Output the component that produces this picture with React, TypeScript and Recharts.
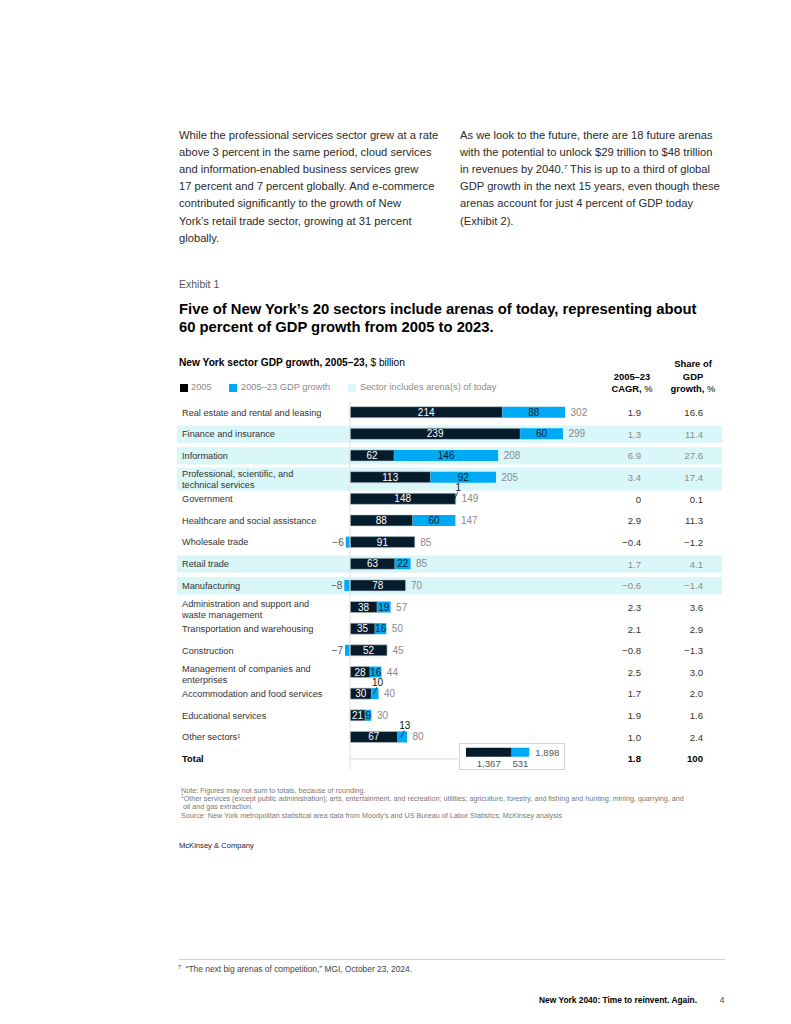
import React from "react";
import {
  BarChart,
  Bar,
  XAxis,
  YAxis,
  ReferenceArea,
  ReferenceLine,
  LabelList,
} from "recharts";

// New York sector GDP, $ billion
const sectors = [
  "Real estate and rental and leasing",
  "Finance and insurance",
  "Information",
  "Professional, scientific, and\ntechnical services",
  "Government",
  "Healthcare and social assistance",
  "Wholesale trade",
  "Retail trade",
  "Manufacturing",
  "Administration and support and\nwaste management",
  "Transportation and warehousing",
  "Construction",
  "Management of companies and\nenterprises",
  "Accommodation and food services",
  "Educational services",
  "Other sectors¹",
];
const gdp2005 = [214, 239, 62, 113, 148, 88, 91, 63, 78, 38, 35, 52, 28, 30, 21, 67];
const growth = [88, 60, 146, 92, 1, 60, -6, 22, -8, 19, 16, -7, 16, 10, 9, 13];
const gdp2023 = [302, 299, 208, 205, 149, 147, 85, 85, 70, 57, 50, 45, 44, 40, 30, 80];
const cagr = [1.9, 1.3, 6.9, 3.4, 0, 2.9, -0.4, 1.7, -0.6, 2.3, 2.1, -0.8, 2.5, 1.7, 1.9, 1.0];
const shareOfGrowth = [16.6, 11.4, 27.6, 17.4, 0.1, 11.3, -1.2, 4.1, -1.4, 3.6, 2.9, -1.3, 3.0, 2.0, 1.6, 2.4];
const hasArena = [false, true, true, true, false, false, false, true, true, false, false, false, false, false, false, false];
const calloutSectors = ["Government", "Accommodation and food services", "Other sectors¹"];

const totalName = "Total";
const total2005 = 1367;
const totalGrowth = 531;
const total2023 = 1898;
const totalCagr = 1.8;
const totalShare = 100;

const DARK = "#051C2C";
const BLUE = "#00A9F4";
const BAND = "#D9F6F8";
const GREY = "#8a8a8a";
const FONT = '"Liberation Sans", Arial, sans-serif';

const rows = [
  ...sectors.map((s, i) => ({ sector: s, base: gdp2005[i], growth: growth[i] })),
  { sector: totalName, base: null, growth: null },
];
const totalRows = [{ name: totalName, base: total2005, growth: totalGrowth }];

const fmt = (v: number) => (v === 0 ? "0" : (v < 0 ? "\u2212" : "") + Math.abs(v).toFixed(1));
const fmtInt = (v: number) => (v < 0 ? "\u2212" : "") + Math.abs(v).toLocaleString("en-US");

type TProps = {
  x: number;
  y: number;
  size: number;
  weight?: number;
  color?: string;
  align?: "left" | "right" | "center";
  ls?: number;
  children: React.ReactNode;
};

function T({ x, y, size, weight = 400, color = "#222", align = "left", ls = 0, children }: TProps) {
  const style: React.CSSProperties = {
    position: "absolute",
    top: y - size * 0.6,
    height: size * 1.2,
    lineHeight: `${size * 1.2}px`,
    fontSize: size,
    fontWeight: weight,
    color,
    whiteSpace: "nowrap",
    letterSpacing: ls,
  };
  if (align === "left") style.left = x;
  else if (align === "right") style.right = 791 - x;
  else {
    style.left = x;
    style.transform = "translateX(-50%)";
  }
  return <div style={style}>{children}</div>;
}

const Sup = ({ children, size }: { children: React.ReactNode; size: number }) => (
  <span style={{ fontSize: size, position: "relative", top: -size * 0.6, lineHeight: 0 }}>{children}</span>
);

const leftPara = [
  "While the professional services sector grew at a rate",
  "above 3 percent in the same period, cloud services",
  "and information-enabled business services grew",
  "17 percent and 7 percent globally. And e-commerce",
  "contributed significantly to the growth of New",
  "York\u2019s retail trade sector, growing at 31 percent",
  "globally.",
];
const rightPara: React.ReactNode[] = [
  "As we look to the future, there are 18 future arenas",
  "with the potential to unlock $29 trillion to $48 trillion",
  <>
    in revenues by 2040.<Sup size={6}>7</Sup> This is up to a third of global
  </>,
  "GDP growth in the next 15 years, even though these",
  "arenas account for just 4 percent of GDP today",
  "(Exhibit 2).",
];

const CAGR_X = 641;
const SHARE_X = 703;

const RowTick = (props: any) => {
  const { y, payload } = props;
  const name: string = payload.value;
  if (name === totalName) {
    return (
      <g fontFamily={FONT}>
        <text x={182} y={y} dominantBaseline="central" fontSize={9.4} fontWeight={700} fill="#000">
          {name}
        </text>
        <text x={CAGR_X} y={y} dominantBaseline="central" textAnchor="end" fontSize={9.6} fontWeight={700} fill="#000">
          {fmt(totalCagr)}
        </text>
        <text x={SHARE_X} y={y} dominantBaseline="central" textAnchor="end" fontSize={9.6} fontWeight={700} fill="#000">
          {totalShare}
        </text>
      </g>
    );
  }
  const i = sectors.indexOf(name);
  const lines = name.split("\n");
  const numColor = hasArena[i] ? "#8c8c8c" : "#333";
  return (
    <g fontFamily={FONT}>
      {lines.map((l, k) => (
        <text
          key={k}
          x={182}
          y={lines.length === 1 ? y : y - 3.6 + k * 10.8}
          dominantBaseline="central"
          fontSize={9.2}
          fill="#333"
        >
          {l}
        </text>
      ))}
      <text x={CAGR_X} y={y} dominantBaseline="central" textAnchor="end" fontSize={9.6} fill={numColor}>
        {fmt(cagr[i])}
      </text>
      <text x={SHARE_X} y={y} dominantBaseline="central" textAnchor="end" fontSize={9.6} fill={numColor}>
        {fmt(shareOfGrowth[i])}
      </text>
    </g>
  );
};

const box = (p: any) => {
  const vb = p.viewBox ?? p;
  const w = vb.width ?? 0;
  return { x: Math.min(vb.x, vb.x + w), y: vb.y, w: Math.abs(w), h: vb.height };
};

const BaseLabel = (p: any) => {
  const i = p.index;
  if (i == null || i >= sectors.length) return null;
  const b = box(p);
  const k = b.w / gdp2005[i];
  const end = b.x + b.w + Math.max(growth[i], 0) * k;
  const cy = b.y + b.h / 2;
  return (
    <g fontFamily={FONT} fontSize={10}>
      <text x={b.x + b.w / 2} y={cy} dominantBaseline="central" textAnchor="middle" fill="#fff">
        {gdp2005[i]}
      </text>
      <text x={end + 5.5} y={cy} dominantBaseline="central" fill={GREY}>
        {gdp2023[i]}
      </text>
    </g>
  );
};

const GrowthLabel = (p: any) => {
  const i = p.index;
  if (i == null || i >= sectors.length) return null;
  const b = box(p);
  const g = growth[i];
  const cy = b.y + b.h / 2;
  if (g < 0) {
    return (
      <text x={b.x - 2} y={cy} dominantBaseline="central" textAnchor="end" fontFamily={FONT} fontSize={10} fill="#555">
        {fmtInt(g)}
      </text>
    );
  }
  const cx = b.x + b.w / 2;
  if (calloutSectors.includes(sectors[i])) {
    return (
      <g>
        <line x1={cx - 1.5} y1={b.y + 6} x2={cx + 2} y2={b.y - 1} stroke={DARK} strokeWidth={0.8} />
        <text x={cx + 2.5} y={b.y - 5.5} dominantBaseline="central" textAnchor="middle" fontFamily={FONT} fontSize={10} fill="#111">
          {g}
        </text>
      </g>
    );
  }
  return (
    <text x={cx} y={cy} dominantBaseline="central" textAnchor="middle" fontFamily={FONT} fontSize={10} fill={DARK}>
      {g}
    </text>
  );
};

const makeBand = (twoLine: boolean) => (p: any) => {
  const top = twoLine ? p.y + 1 : p.y + 2.2;
  const h = twoLine ? p.height + 1.3 : p.height - 4.4;
  return <rect x={p.x} y={top} width={p.width} height={h} fill={BAND} />;
};

const TotalBaseLabel = (p: any) => {
  const b = box(p);
  return (
    <text x={b.x + b.w / 2} y={b.y + b.h + 6.5} dominantBaseline="central" textAnchor="middle" fontFamily={FONT} fontSize={9.6} fill="#555">
      {fmtInt(total2005)}
    </text>
  );
};

const TotalGrowthLabel = (p: any) => {
  const b = box(p);
  return (
    <g fontFamily={FONT} fontSize={9.6} fill="#555">
      <text x={b.x + b.w / 2} y={b.y + b.h + 6.5} dominantBaseline="central" textAnchor="middle">
        {fmtInt(totalGrowth)}
      </text>
      <text x={b.x + b.w + 6} y={b.y + b.h / 2} dominantBaseline="central">
        {fmtInt(total2023)}
      </text>
    </g>
  );
};

const Swatch = ({ x, y, color }: { x: number; y: number; color: string }) => (
  <div style={{ position: "absolute", left: x, top: y - 4, width: 8, height: 8, background: color }} />
);

export default function App() {
  return (
    <div
      style={{
        position: "absolute",
        left: 0,
        top: 0,
        width: 791,
        height: 1024,
        background: "#fff",
        fontFamily: FONT,
        color: "#222",
        overflow: "hidden",
      }}
    >
      {leftPara.map((l, k) => (
        <T key={k} x={179} y={135.5 + k * 17.15} size={11.2} color="#2a2a2a">
          {l}
        </T>
      ))}
      {rightPara.map((l, k) => (
        <T key={k} x={460} y={135.5 + k * 17.15} size={11.2} color="#2a2a2a">
          {l}
        </T>
      ))}

      <T x={179} y={284} size={10.5} color="#555">
        Exhibit 1
      </T>
      <T x={179} y={310} size={14.8} weight={700} color="#000">
        Five of New York’s 20 sectors include arenas of today, representing about
      </T>
      <T x={179} y={328} size={14.8} weight={700} color="#000">
        60 percent of GDP growth from 2005 to 2023.
      </T>

      <T x={179} y={363} size={10.2} weight={700} color="#000">
        New York sector GDP growth, 2005–23, <span style={{ fontWeight: 400 }}>$ billion</span>
      </T>
      <Swatch x={180} y={388} color="#000" />
      <T x={191} y={388} size={9.3} color="#8a8a8a">
        2005
      </T>
      <Swatch x={229} y={388} color={BLUE} />
      <T x={241} y={388} size={9.3} color="#8a8a8a">
        2005–23 GDP growth
      </T>
      <Swatch x={348} y={388} color={BAND} />
      <T x={360} y={388} size={9.3} color="#8a8a8a">
        Sector includes arena(s) of today
      </T>

      <T x={632} y={377} size={9.4} weight={700} color="#000" align="center">
        2005–23
      </T>
      <T x={632} y={389} size={9.4} weight={700} color="#000" align="center">
        CAGR, <span style={{ fontWeight: 400 }}>%</span>
      </T>
      <T x={693} y={364} size={9.4} weight={700} color="#000" align="center">
        Share of
      </T>
      <T x={693} y={376.5} size={9.4} weight={700} color="#000" align="center">
        GDP
      </T>
      <T x={693} y={389} size={9.4} weight={700} color="#000" align="center">
        growth, <span style={{ fontWeight: 400 }}>%</span>
      </T>

      <div style={{ position: "absolute", left: 0, top: 395 }}>
        <BarChart
          width={791}
          height={380}
          data={rows}
          layout="vertical"
          stackOffset="sign"
          barSize={11}
          margin={{ top: 6.7, right: 69, bottom: 5.25, left: 176 }}
        >
          {sectors.map((s, i) =>
            hasArena[i] ? (
              <ReferenceArea
                key={s}
                y1={s}
                y2={s}
                x1={-243}
                x2={522.4}
                ifOverflow="visible"
                shape={makeBand(s.includes("\n"))}
              />
            ) : null
          )}
          <XAxis type="number" hide domain={[-243, 522.4]} allowDataOverflow />
          <YAxis
            type="category"
            dataKey="sector"
            width={1}
            axisLine={false}
            tickLine={false}
            interval={0}
            tick={RowTick}
          />
          <ReferenceLine x={0} stroke="#dedede" strokeWidth={1} />
          <ReferenceLine
            segment={[
              { x: 0, y: totalName },
              { x: 152, y: totalName },
            ]}
            stroke="#dedede"
            strokeWidth={1}
          />
          <Bar dataKey="base" stackId="a" fill={DARK} stroke="#b9c3ca" strokeWidth={0.6} isAnimationActive={false}>
            <LabelList dataKey="base" content={BaseLabel} />
          </Bar>
          <Bar dataKey="growth" stackId="a" fill={BLUE} isAnimationActive={false}>
            <LabelList dataKey="growth" content={GrowthLabel} />
          </Bar>
        </BarChart>
      </div>

      <div
        style={{
          position: "absolute",
          left: 459,
          top: 743,
          width: 104,
          height: 25,
          border: "1px solid #d4d4d4",
          background: "#fff",
        }}
      >
        <BarChart
          width={104}
          height={25}
          data={totalRows}
          layout="vertical"
          barSize={10}
          barCategoryGap={0}
          margin={{ top: 2.7, right: 4, bottom: 12.3, left: 6 }}
        >
          <XAxis type="number" hide domain={[0, 2818]} allowDataOverflow />
          <YAxis type="category" dataKey="name" hide />
          <Bar dataKey="base" stackId="t" fill={DARK} isAnimationActive={false}>
            <LabelList dataKey="base" content={TotalBaseLabel} />
          </Bar>
          <Bar dataKey="growth" stackId="t" fill={BLUE} isAnimationActive={false}>
            <LabelList dataKey="growth" content={TotalGrowthLabel} />
          </Bar>
        </BarChart>
      </div>

      <T x={181} y={791} size={7.2} color="#777">
        Note: Figures may not sum to totals, because of rounding.
      </T>
      <T x={181} y={799.5} size={7.2} color="#777">
        <Sup size={5}>1</Sup>Other services (except public administration); arts, entertainment, and recreation; utilities; agriculture, forestry, and fishing and hunting; mining, quarrying, and
      </T>
      <T x={183} y={807.5} size={7.2} color="#777">
        oil and gas extraction.
      </T>
      <T x={181} y={816} size={7.2} color="#777">
        Source: New York metropolitan statistical area data from Moody’s and US Bureau of Labor Statistics; McKinsey analysis
      </T>

      <T x={179} y={846} size={7.6} color="#222">
        McKinsey &amp; Company
      </T>

      <div style={{ position: "absolute", left: 179, top: 959, width: 546, height: 1, background: "#cfcfcf" }} />
      <T x={178} y={969.5} size={8.4} color="#444">
        <Sup size={5.5}>7</Sup>
        {"\u00a0\u00a0\u201cThe next big arenas of competition,\u201d MGI, October 23, 2024."}
      </T>

      <T x={697} y={1000} size={8.4} weight={700} color="#000" align="right">
        New York 2040: Time to reinvent. Again.
      </T>
      <T x={722} y={1000} size={8.4} color="#444" align="center">
        4
      </T>
    </div>
  );
}
